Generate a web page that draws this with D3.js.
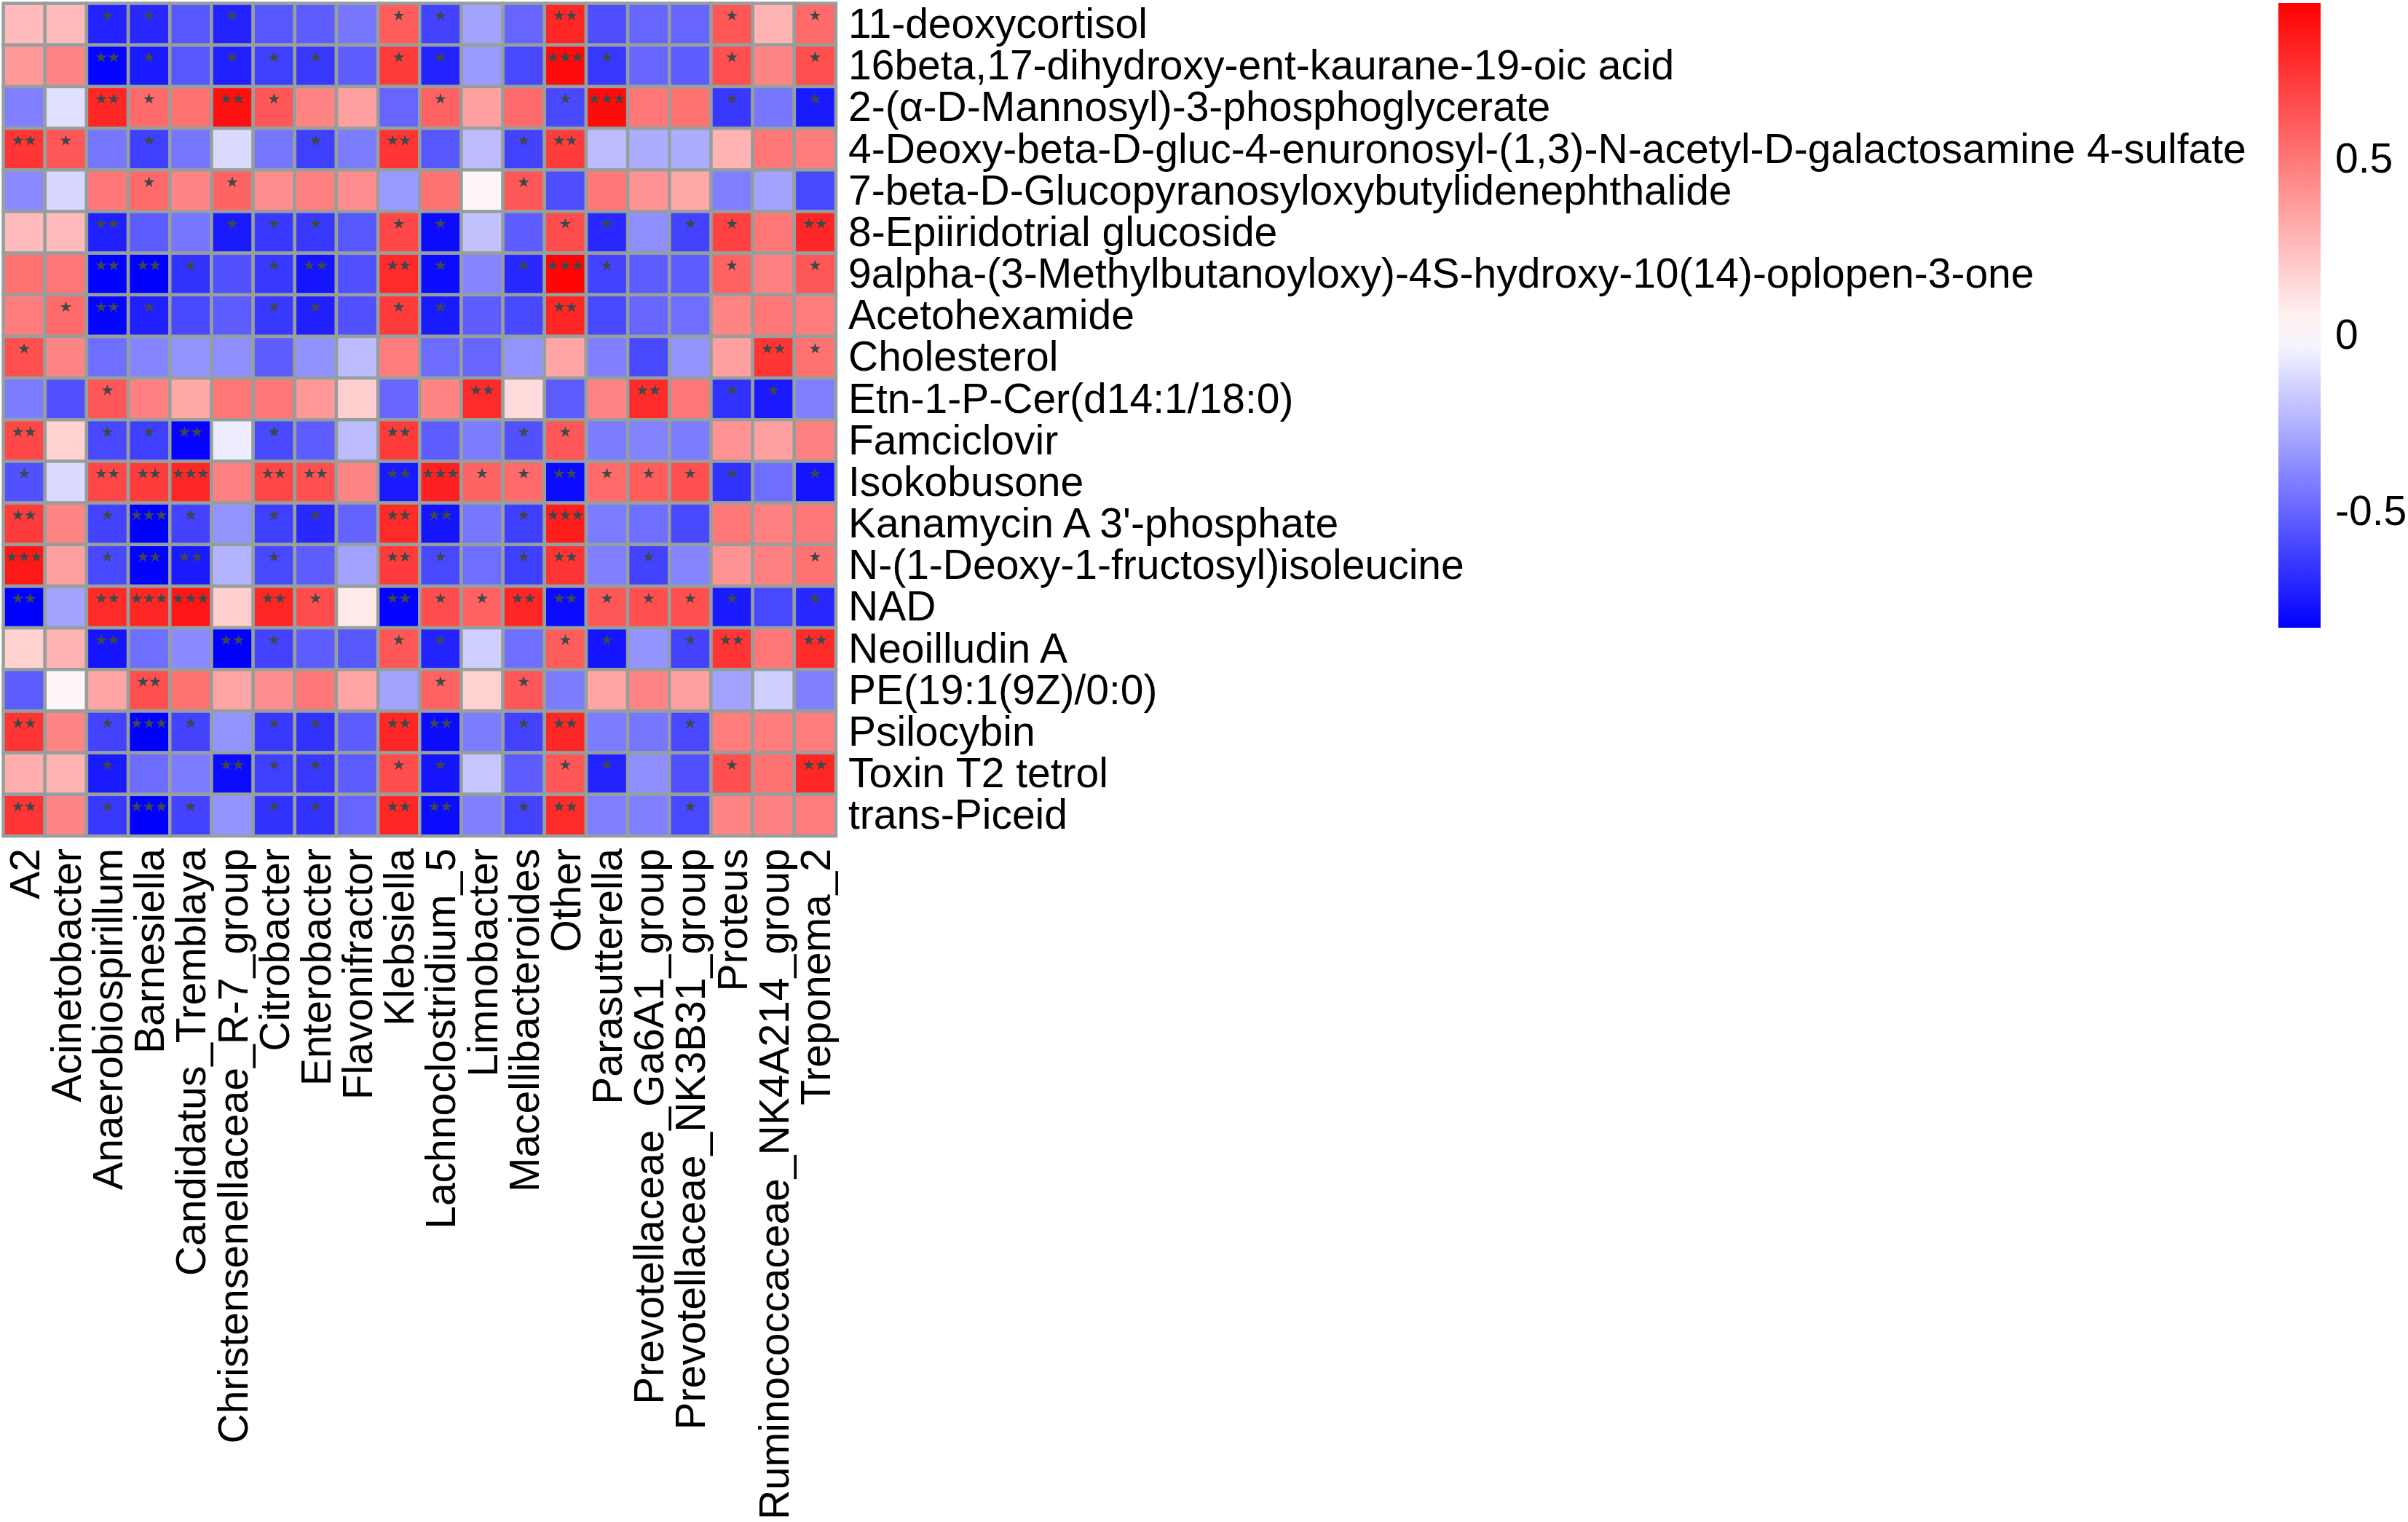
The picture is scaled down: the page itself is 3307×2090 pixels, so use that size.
<!DOCTYPE html>
<html>
<head>
<meta charset="utf-8">
<script src="https://cdn.jsdelivr.net/npm/d3@7"></script>
<style>
  body { margin: 0; background: #fff; }
  text { font-family: "Liberation Sans", Arial, sans-serif; }
</style>
</head>
<body>
<div id="chart"></div>
<script>
const metabolites = [
  "11-deoxycortisol",
  "16beta,17-dihydroxy-ent-kaurane-19-oic acid",
  "2-(α-D-Mannosyl)-3-phosphoglycerate",
  "4-Deoxy-beta-D-gluc-4-enuronosyl-(1,3)-N-acetyl-D-galactosamine 4-sulfate",
  "7-beta-D-Glucopyranosyloxybutylidenephthalide",
  "8-Epiiridotrial glucoside",
  "9alpha-(3-Methylbutanoyloxy)-4S-hydroxy-10(14)-oplopen-3-one",
  "Acetohexamide",
  "Cholesterol",
  "Etn-1-P-Cer(d14:1/18:0)",
  "Famciclovir",
  "Isokobusone",
  "Kanamycin A 3'-phosphate",
  "N-(1-Deoxy-1-fructosyl)isoleucine",
  "NAD",
  "Neoilludin A",
  "PE(19:1(9Z)/0:0)",
  "Psilocybin",
  "Toxin T2 tetrol",
  "trans-Piceid"
];

const genera = [
  "A2", "Acinetobacter", "Anaerobiospirillum", "Barnesiella", "Candidatus_Tremblaya",
  "Christensenellaceae_R-7_group", "Citrobacter", "Enterobacter", "Flavonifractor",
  "Klebsiella", "Lachnoclostridium_5", "Limnobacter", "Macellibacteroides", "Other",
  "Parasutterella", "Prevotellaceae_Ga6A1_group", "Prevotellaceae_NK3B31_group",
  "Proteus", "Ruminococcaceae_NK4A214_group", "Treponema_2"
];

// correlation values, one row per metabolite, one column per genus
const correlations = [
  [ 0.25, 0.25,-0.72,-0.70,-0.55,-0.72,-0.55,-0.53,-0.45, 0.60,-0.62,-0.30,-0.50, 0.80,-0.58,-0.50,-0.50, 0.62, 0.28, 0.55],
  [ 0.38, 0.45,-0.82,-0.75,-0.55,-0.73,-0.63,-0.65,-0.53, 0.72,-0.72,-0.33,-0.60, 0.90,-0.65,-0.50,-0.53, 0.65, 0.45, 0.65],
  [-0.42,-0.10, 0.80, 0.55, 0.52, 0.88, 0.62, 0.45, 0.35,-0.50, 0.58, 0.35, 0.55,-0.60, 0.90, 0.50, 0.52,-0.65,-0.45,-0.75],
  [ 0.75, 0.62,-0.45,-0.63,-0.45,-0.12,-0.45,-0.63,-0.43, 0.75,-0.55,-0.22,-0.62, 0.72,-0.22,-0.27,-0.27, 0.28, 0.50, 0.48],
  [-0.38,-0.13, 0.50, 0.55, 0.45, 0.57, 0.42, 0.47, 0.42,-0.33, 0.52, 0.03, 0.62,-0.58, 0.50, 0.40, 0.32,-0.42,-0.30,-0.60],
  [ 0.25, 0.25,-0.73,-0.53,-0.45,-0.75,-0.65,-0.65,-0.55, 0.68,-0.80,-0.20,-0.53, 0.66,-0.70,-0.37,-0.62, 0.70, 0.50, 0.80],
  [ 0.52, 0.50,-0.83,-0.84,-0.67,-0.57,-0.65,-0.77,-0.57, 0.78,-0.80,-0.40,-0.70, 0.92,-0.62,-0.53,-0.53, 0.58, 0.47, 0.62],
  [ 0.48, 0.55,-0.82,-0.73,-0.60,-0.53,-0.65,-0.73,-0.57, 0.72,-0.75,-0.53,-0.60, 0.80,-0.60,-0.50,-0.47, 0.45, 0.50, 0.48],
  [ 0.65, 0.45,-0.47,-0.40,-0.35,-0.37,-0.53,-0.36,-0.22, 0.48,-0.48,-0.50,-0.35, 0.33,-0.42,-0.60,-0.35, 0.35, 0.75, 0.52],
  [-0.43,-0.57, 0.62, 0.47, 0.32, 0.50, 0.50, 0.38, 0.18,-0.50, 0.45, 0.78, 0.13,-0.53, 0.45, 0.78, 0.50,-0.67,-0.75,-0.42],
  [ 0.68, 0.17,-0.60,-0.63,-0.82,-0.06,-0.60,-0.53,-0.22, 0.72,-0.53,-0.43,-0.57, 0.62,-0.43,-0.41,-0.43, 0.40, 0.35, 0.47],
  [-0.57,-0.12, 0.68, 0.72, 0.80, 0.47, 0.68, 0.64, 0.45,-0.75, 0.82, 0.57, 0.55,-0.80, 0.55, 0.60, 0.64,-0.67,-0.47,-0.77],
  [ 0.72, 0.45,-0.62,-0.84,-0.62,-0.35,-0.63,-0.70,-0.51, 0.78,-0.77,-0.45,-0.63, 0.83,-0.43,-0.47,-0.60, 0.50, 0.47, 0.50],
  [ 0.85, 0.35,-0.60,-0.83,-0.75,-0.25,-0.60,-0.53,-0.30, 0.72,-0.60,-0.47,-0.63, 0.75,-0.42,-0.62,-0.40, 0.40, 0.47, 0.52],
  [-0.84,-0.30, 0.78, 0.80, 0.86, 0.18, 0.80, 0.66, 0.08,-0.82, 0.66, 0.58, 0.80,-0.80, 0.62, 0.65, 0.65,-0.75,-0.60,-0.70],
  [ 0.17, 0.28,-0.77,-0.47,-0.38,-0.84,-0.62,-0.53,-0.55, 0.62,-0.72,-0.16,-0.47, 0.60,-0.77,-0.35,-0.62, 0.75, 0.50, 0.78],
  [-0.53, 0.03, 0.33, 0.65, 0.52, 0.33, 0.42, 0.50, 0.33,-0.30, 0.58, 0.17, 0.62,-0.43, 0.33, 0.45, 0.35,-0.30,-0.16,-0.42],
  [ 0.75, 0.45,-0.62,-0.84,-0.62,-0.35,-0.65,-0.67,-0.53, 0.80,-0.80,-0.43,-0.62, 0.80,-0.43,-0.45,-0.60, 0.48, 0.48, 0.48],
  [ 0.30, 0.28,-0.75,-0.48,-0.43,-0.80,-0.63,-0.65,-0.53, 0.66,-0.77,-0.19,-0.53, 0.62,-0.72,-0.37,-0.57, 0.65, 0.52, 0.80],
  [ 0.75, 0.45,-0.65,-0.84,-0.62,-0.35,-0.67,-0.67,-0.50, 0.80,-0.80,-0.42,-0.62, 0.78,-0.42,-0.42,-0.60, 0.45, 0.47, 0.48]
];

// significance marks (number of stars) for each cell
const stars = [
  [0,0,1,1,0,1,0,0,0,1,1,0,0,2,0,0,0,1,0,1],
  [0,0,2,1,0,1,1,1,0,1,1,0,0,3,1,0,0,1,0,1],
  [0,0,2,1,0,2,1,0,0,0,1,0,0,1,3,0,0,1,0,1],
  [2,1,0,1,0,0,0,1,0,2,0,0,1,2,0,0,0,0,0,0],
  [0,0,0,1,0,1,0,0,0,0,0,0,1,0,0,0,0,0,0,0],
  [0,0,2,0,0,1,1,1,0,1,1,0,0,1,1,0,1,1,0,2],
  [0,0,2,2,1,0,1,2,0,2,1,0,1,3,1,0,0,1,0,1],
  [0,1,2,1,0,0,1,1,0,1,1,0,0,2,0,0,0,0,0,0],
  [1,0,0,0,0,0,0,0,0,0,0,0,0,0,0,0,0,0,2,1],
  [0,0,1,0,0,0,0,0,0,0,0,2,0,0,0,2,0,1,1,0],
  [2,0,1,1,2,0,1,0,0,2,0,0,1,1,0,0,0,0,0,0],
  [1,0,2,2,3,0,2,2,0,2,3,1,1,2,1,1,1,1,0,1],
  [2,0,1,3,1,0,1,1,0,2,2,0,1,3,0,0,0,0,0,0],
  [3,0,1,2,2,0,1,0,0,2,1,0,1,2,0,1,0,0,0,1],
  [2,0,2,3,3,0,2,1,0,2,1,1,2,2,1,1,1,1,0,1],
  [0,0,2,0,0,2,1,0,0,1,1,0,0,1,1,0,1,2,0,2],
  [0,0,0,2,0,0,0,0,0,0,1,0,1,0,0,0,0,0,0,0],
  [2,0,1,3,1,0,1,1,0,2,2,0,1,2,0,0,1,0,0,0],
  [0,0,1,0,0,2,1,1,0,1,1,0,0,1,1,0,0,1,0,2],
  [2,0,1,3,1,0,1,1,0,2,2,0,1,2,0,0,1,0,0,0]
];

const legendTicks = [0.5, 0, -0.5];
const colorDomain = [-0.835, 0, 0.94];

const width = 3307;
const height = 2090;
const gridLeft = 4.6, gridTop = 4.6, gridSize = 1143.4;
const fontSize = 57;

const svg = d3.select("#chart").append("svg")
  .attr("width", width)
  .attr("height", height);

svg.append("rect").attr("width", width).attr("height", height).attr("fill", "#fff");

const x = d3.scaleBand().domain(genera).range([gridLeft, gridLeft + gridSize]);
const y = d3.scaleBand().domain(metabolites).range([gridTop, gridTop + gridSize]);
const color = d3.scaleLinear().domain(colorDomain).range(["#0000ff", "#ffffff", "#ff0000"]);

const cells = [];
correlations.forEach((row, i) => {
  row.forEach((v, j) => {
    cells.push({ row: metabolites[i], col: genera[j], value: v, stars: stars[i][j] });
  });
});

const heat = svg.append("g");

heat.selectAll("rect.cell")
  .data(cells)
  .enter()
  .append("rect")
  .attr("class", "cell")
  .attr("x", d => x(d.col))
  .attr("y", d => y(d.row))
  .attr("width", x.bandwidth())
  .attr("height", y.bandwidth())
  .attr("fill", d => color(d.value))
  .attr("stroke", "#979f9c")
  .attr("stroke-width", 4.5);

// stars sit in the upper part of the cell, like pheatmap's display_numbers
const star = d3.symbol().type(d3.symbolStar).size(75);
const starGap = 17;

cells.filter(d => d.stars > 0).forEach(d => {
  const cx = x(d.col) + x.bandwidth() / 2;
  const cy = y(d.row) + 17;
  for (let k = 0; k < d.stars; k++) {
    heat.append("path")
      .attr("d", star)
      .attr("transform", `translate(${cx + (k - (d.stars - 1) / 2) * starGap},${cy})`)
      .attr("fill", "#3e4848");
  }
});

// row labels
svg.append("g").selectAll("text")
  .data(metabolites)
  .enter()
  .append("text")
  .attr("x", gridLeft + gridSize + 17)
  .attr("y", d => y(d) + y.bandwidth() / 2)
  .attr("dy", "0.33em")
  .attr("font-size", fontSize)
  .attr("fill", "#000")
  .text(d => d);

// column labels, rotated
svg.append("g").selectAll("text")
  .data(genera)
  .enter()
  .append("text")
  .attr("transform", d => `translate(${x(d) + x.bandwidth() / 2},${gridTop + gridSize + 17}) rotate(-90)`)
  .attr("dy", "0.36em")
  .attr("text-anchor", "end")
  .attr("font-size", fontSize)
  .attr("fill", "#000")
  .text(d => d);

// colour legend
const legTop = 4, legBottom = 862, legX = 3129, legW = 58;
const legScale = d3.scaleLinear().domain([colorDomain[2], colorDomain[0]]).range([legTop, legBottom]);

const grad = svg.append("defs").append("linearGradient")
  .attr("id", "legGrad")
  .attr("x1", 0).attr("y1", 0).attr("x2", 0).attr("y2", 1);

d3.range(0, 1.0001, 0.05).forEach(t => {
  const v = legScale.invert(legTop + t * (legBottom - legTop));
  grad.append("stop").attr("offset", t).attr("stop-color", color(v));
});

svg.append("rect")
  .attr("x", legX)
  .attr("y", legTop)
  .attr("width", legW)
  .attr("height", legBottom - legTop)
  .attr("fill", "url(#legGrad)");

svg.append("g").selectAll("text")
  .data(legendTicks)
  .enter()
  .append("text")
  .attr("x", legX + legW + 20)
  .attr("y", d => legScale(d))
  .attr("dy", "0.36em")
  .attr("font-size", fontSize)
  .attr("fill", "#000")
  .text(d => d);
</script>
</body>
</html>
